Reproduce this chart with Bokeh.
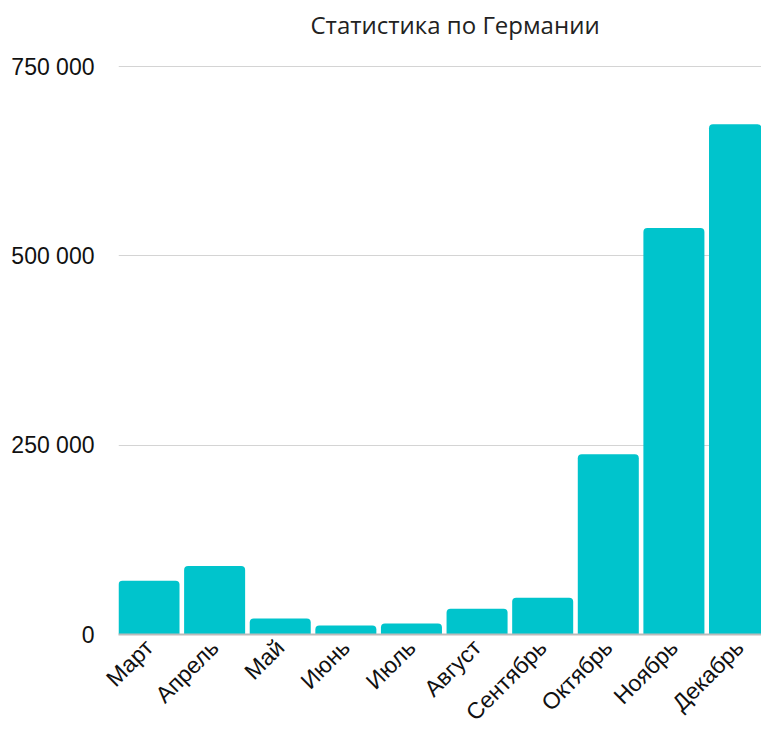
from bokeh.plotting import figure
from bokeh.models import Range1d, FixedTicker, ColumnDataSource
from bokeh.embed import file_html
from bokeh.resources import INLINE
import math

months = ["Март", "Апрель", "Май", "Июнь", "Июль", "Август", "Сентябрь", "Октябрь", "Ноябрь", "Декабрь"]
values = [71000, 90500, 21000, 12000, 14500, 34000, 48500, 238000, 537000, 674000]
y_ticks = [0, 250000, 500000, 750000]
y_tick_labels = ["0", "250 000", "500 000", "750 000"]
title_text = "Статистика по Германии"

idx = list(range(len(months)))
src = ColumnDataSource(dict(x=idx, top=values))

p = figure(width=761, height=737, output_backend="svg", toolbar_location=None,
           x_range=Range1d(-0.465, 9.335), y_range=Range1d(0, 778000),
           title=title_text, min_border_left=118, min_border_right=0, min_border_top=12,
           min_border_bottom=0, outline_line_color=None)
p.title.align = "left"
p.title.offset = 192
p.title.text_font = "Open Sans"
p.title.text_font_size = "24px"
p.title.text_font_style = "normal"
p.title.text_color = "#222222"

p.vbar(x="x", top="top", width=0.93, source=src, fill_color="#00C4CC",
       line_color=None, border_radius=(4, 4, 0, 0))

p.xaxis.ticker = FixedTicker(ticks=idx)
p.xaxis.major_label_overrides = {i: m for i, m in enumerate(months)}
p.xaxis.major_label_orientation = math.pi / 4
p.xaxis.major_label_text_font = "Liberation Sans"
p.xaxis.major_label_text_font_size = "23px"
p.xaxis.major_label_text_color = "#111111"
p.xaxis.major_tick_line_color = None
p.xaxis.minor_tick_line_color = None
p.xaxis.axis_line_color = "#bbbbbb"
p.xaxis.axis_line_width = 2
p.xaxis.major_label_standoff = 3

p.yaxis.ticker = FixedTicker(ticks=y_ticks)
p.yaxis.major_label_overrides = {t: l for t, l in zip(y_ticks, y_tick_labels)}
p.yaxis.major_label_text_font = "Liberation Sans"
p.yaxis.major_label_text_font_size = "23px"
p.yaxis.major_label_text_color = "#111111"
p.yaxis.major_tick_line_color = None
p.yaxis.minor_tick_line_color = None
p.yaxis.axis_line_color = None
p.yaxis.major_label_standoff = 18

p.xgrid.grid_line_color = None
p.ygrid.grid_line_color = "#d4d4d4"
p.ygrid.grid_line_width = 1

open("out.html", "w").write(file_html(p, INLINE))
